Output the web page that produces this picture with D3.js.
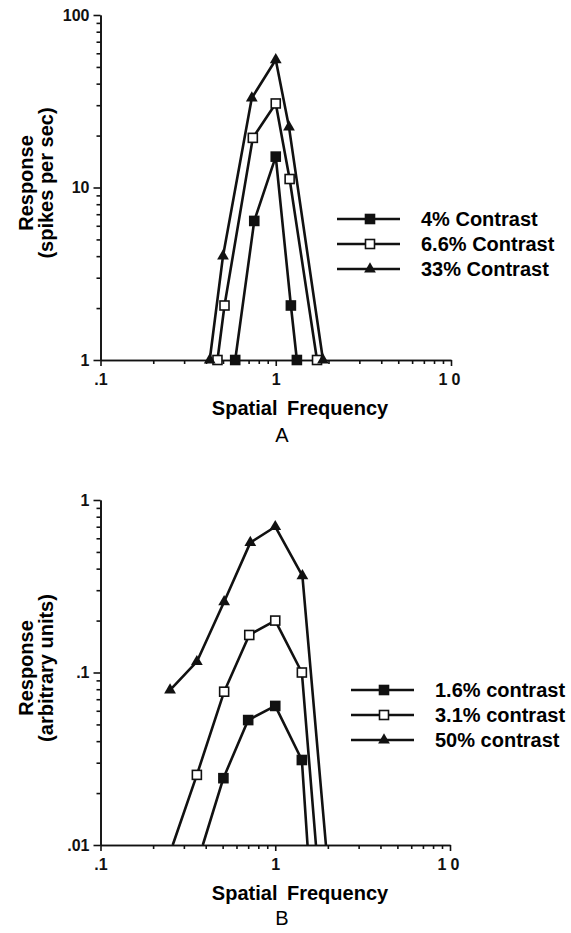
<!DOCTYPE html>
<html>
<head>
<meta charset="utf-8">
<script src="https://cdn.jsdelivr.net/npm/d3@7"></script>
<style>
  html, body { margin: 0; padding: 0; background: #fff; }
  svg { display: block; font-family: "Liberation Sans", Arial, Helvetica, sans-serif; }
  .tick text { font-weight: bold; font-size: 16px; fill: #111; }
  .domain, .tick line { stroke: #111; stroke-width: 1.6; }
</style>
</head>
<body>
<div id="wrapper"></div>
<script>
// ---- Panel A: spikes per sec vs spatial frequency ----
const freqA_33 = [0.42, 0.50, 0.73, 1.0, 1.19, 1.86]
const respA_33 = [1, 4.0, 33, 55, 22.4, 1]
const freqA_66 = [0.465, 0.51, 0.74, 1.0, 1.2, 1.72]
const respA_66 = [1, 2.07, 19.4, 30.7, 11.2, 1]
const freqA_4 = [0.587, 0.754, 1.0, 1.22, 1.32]
const respA_4 = [1, 6.4, 15.1, 2.07, 1]
const labelsA = ["4% Contrast", "6.6% Contrast", "33% Contrast"]

// ---- Panel B: arbitrary units vs spatial frequency ----
const freqB_50 = [0.25, 0.356, 0.51, 0.72, 1.0, 1.43, 1.95]
const respB_50 = [0.079, 0.1155, 0.257, 0.566, 0.70, 0.363, 0.01]
const freqB_31 = [0.259, 0.356, 0.51, 0.71, 1.0, 1.42, 1.71]
const respB_31 = [0.01, 0.0255, 0.0774, 0.165, 0.20, 0.10, 0.01]
const freqB_16 = [0.385, 0.505, 0.70, 1.0, 1.42, 1.53]
const respB_16 = [0.01, 0.0244, 0.053, 0.064, 0.0311, 0.01]
const labelsB = ["1.6% contrast", "3.1% contrast", "50% contrast"]

const xMajor = [0.1, 1, 10]
const xLabels = [".1", "1", "10"]
const yMajorA = [1, 10, 100]
const yLabelsA = ["1", "10", "100"]
const yMajorB = [0.01, 0.1, 1]
const yLabelsB = [".01", ".1", "1"]

const zip = (xs, ys) => xs.map((x, i) => ({ x, y: ys[i] }))

const dimensions = { width: 571, height: 933 }

const svg = d3.select("#wrapper").append("svg")
    .attr("width", dimensions.width)
    .attr("height", dimensions.height)

// minor log ticks between the major decades
function minorTicks(lo, hi) {
  const out = []
  for (let d = lo; d < hi; d *= 10) {
    for (let k = 2; k <= 9; k++) out.push(d * k)
  }
  return out
}

function drawPanel(p) {
  const xScale = d3.scaleLog().domain([0.1, 10]).range([p.x0, p.x1])
  const yScale = d3.scaleLog().domain(p.yDomain).range([p.yBot, p.yTop])

  // x axis
  svg.append("g")
      .attr("transform", `translate(0,${p.yBot})`)
      .call(d3.axisBottom(xScale).tickValues(minorTicks(0.1, 10))
        .tickSize(4).tickSizeOuter(0).tickFormat(""))
  svg.append("g")
      .attr("transform", `translate(0,${p.yBot})`)
      .call(d3.axisBottom(xScale).tickValues(xMajor)
        .tickSize(6).tickSizeOuter(0).tickPadding(8)
        .tickFormat((d, i) => xLabels[i]))
    .selectAll("text")
      .attr("letter-spacing", (d, i) => xLabels[i] === "10" ? 4 : 0)

  // y axis
  svg.append("g")
      .attr("transform", `translate(${p.x0},0)`)
      .call(d3.axisLeft(yScale).tickValues(minorTicks(p.yDomain[0], p.yDomain[1]))
        .tickSize(4).tickSizeOuter(0).tickFormat(""))
  svg.append("g")
      .attr("transform", `translate(${p.x0},0)`)
      .call(d3.axisLeft(yScale).tickValues(p.yMajor)
        .tickSize(7).tickSizeOuter(0).tickPadding(4)
        .tickFormat((d, i) => p.yLabels[i]))

  // y axis title, two rotated lines
  const cy = p.titleY
  svg.append("text")
      .attr("transform", `translate(26,${cy}) rotate(-90)`)
      .attr("text-anchor", "middle").attr("dy", "0.35em")
      .style("font-weight", "bold").style("font-size", "20px")
      .text("Response")
  svg.append("text")
      .attr("transform", `translate(46,${cy}) rotate(-90)`)
      .attr("text-anchor", "middle").attr("dy", "0.35em")
      .style("font-weight", "bold").style("font-size", "20px")
      .text(p.unit)

  // x axis title and panel letter
  svg.append("text")
      .attr("x", 300).attr("y", p.yBot + 55)
      .attr("text-anchor", "middle")
      .style("font-weight", "bold").style("font-size", "20px")
      .attr("word-spacing", 4)
      .text("Spatial Frequency")
  svg.append("text")
      .attr("x", 282).attr("y", p.yBot + p.letterGap)
      .attr("text-anchor", "middle")
      .style("font-size", "20px")
      .text(p.letter)

  const lineGenerator = d3.line()
      .x(d => xScale(d.x))
      .y(d => yScale(d.y))

  p.series.forEach(s => {
    svg.append("path")
        .attr("d", lineGenerator(s.data))
        .attr("fill", "none")
        .attr("stroke", "#111")
        .attr("stroke-width", 2.6)
        .attr("stroke-linejoin", "round")

    const pts = p.markFloor ? s.data : s.data.filter(d => d.y > p.yDomain[0])
    pts.forEach(d => drawMarker(s.marker, xScale(d.x), yScale(d.y)))
  })

  // legend
  p.series.forEach((s, i) => {
    const ly = p.legend.y + i * 25
    svg.append("line")
        .attr("x1", p.legend.x).attr("x2", p.legend.x + 63)
        .attr("y1", ly).attr("y2", ly)
        .attr("stroke", "#111").attr("stroke-width", 2.6)
    drawMarker(s.marker, p.legend.x + 33, ly)
    svg.append("text")
        .attr("x", p.legend.x + 84).attr("y", ly)
        .attr("dy", "0.36em")
        .style("font-weight", "bold").style("font-size", "20px")
        .text(s.label)
  })
}

function drawMarker(type, cx, cy) {
  if (type === "triangle") {
    svg.append("path")
        .attr("d", d3.symbol(d3.symbolTriangle, 60)())
        .attr("transform", `translate(${cx},${cy})`)
        .attr("fill", "#111")
  } else {
    svg.append("rect")
        .attr("x", cx - 4.5).attr("y", cy - 4.5)
        .attr("width", 9).attr("height", 9)
        .attr("fill", type === "filled" ? "#111" : "#fff")
        .attr("stroke", "#111").attr("stroke-width", 1.6)
  }
}

drawPanel({
  x0: 100.5, x1: 451, yTop: 15, yBot: 360,
  yDomain: [1, 100], yMajor: yMajorA, yLabels: yLabelsA,
  titleY: 183, unit: "(spikes per sec)", letter: "A", letterGap: 82,
  markFloor: true,
  legend: { x: 337, y: 219 },
  series: [
    { label: labelsA[0], marker: "filled", data: zip(freqA_4, respA_4) },
    { label: labelsA[1], marker: "open", data: zip(freqA_66, respA_66) },
    { label: labelsA[2], marker: "triangle", data: zip(freqA_33, respA_33) }
  ]
})

drawPanel({
  x0: 100.5, x1: 450, yTop: 500, yBot: 845,
  yDomain: [0.01, 1], yMajor: yMajorB, yLabels: yLabelsB,
  titleY: 668, unit: "(arbitrary units)", letter: "B", letterGap: 80,
  markFloor: false,
  legend: { x: 351, y: 690 },
  series: [
    { label: labelsB[0], marker: "filled", data: zip(freqB_16, respB_16) },
    { label: labelsB[1], marker: "open", data: zip(freqB_31, respB_31) },
    { label: labelsB[2], marker: "triangle", data: zip(freqB_50, respB_50) }
  ]
})
</script>
</body>
</html>
